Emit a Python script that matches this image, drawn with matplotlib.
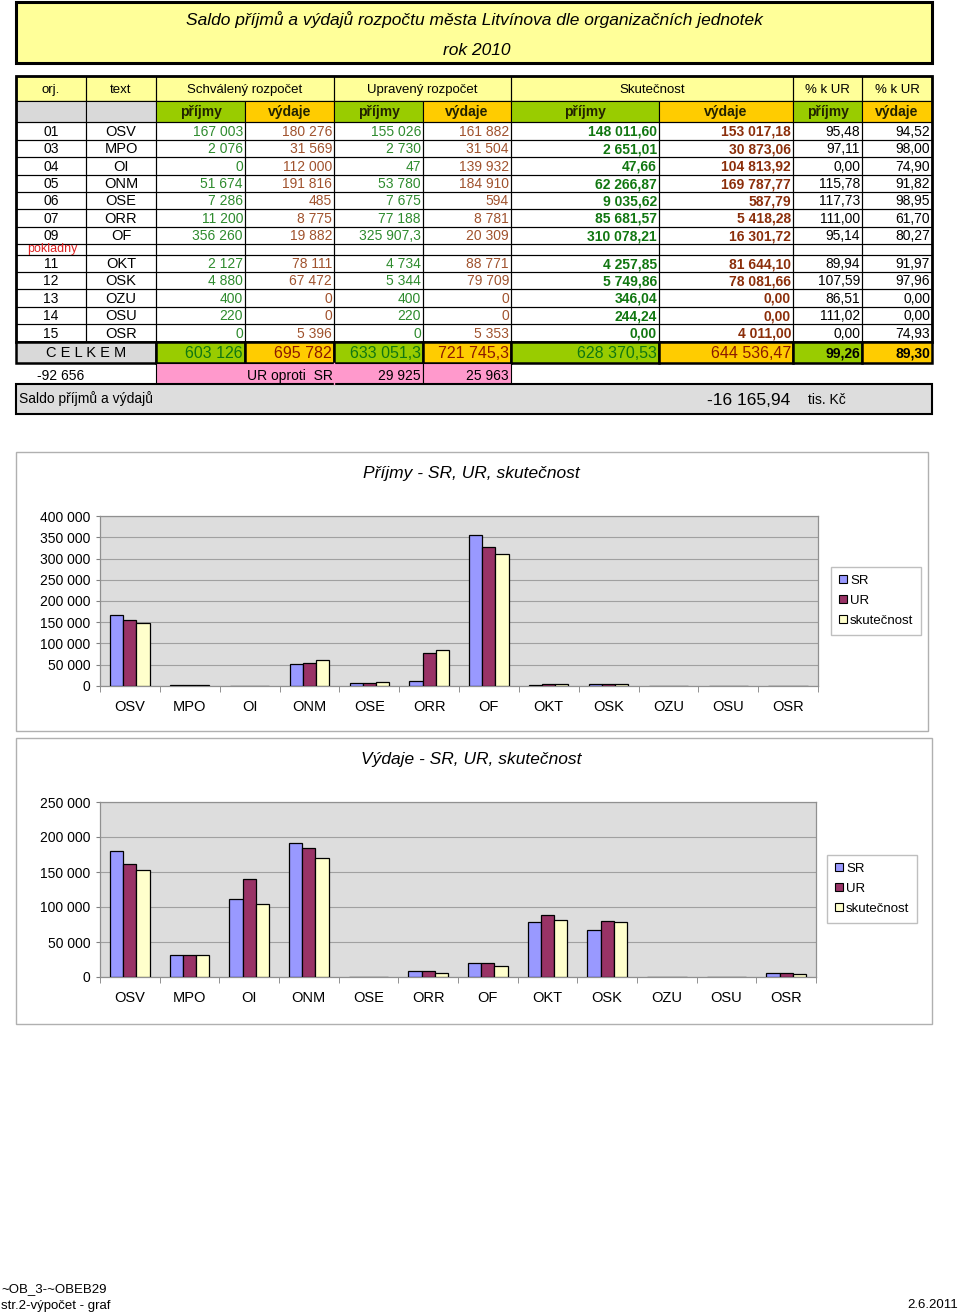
import numpy as np
import matplotlib
matplotlib.use("Agg")
import matplotlib.pyplot as plt
from matplotlib.patches import Rectangle, Patch

plt.rcParams['font.family'] = ['Liberation Sans', 'DejaVu Sans']

# data read from the spreadsheet
codes = ['01', '03', '04', '05', '06', '07', '09', '11', '12', '13', '14', '15']
names = ['OSV', 'MPO', 'OI', 'ONM', 'OSE', 'ORR', 'OF', 'OKT', 'OSK', 'OZU', 'OSU', 'OSR']
sr_prijmy = [167003, 2076, 0, 51674, 7286, 11200, 356260, 2127, 4880, 400, 220, 0]
sr_vydaje = [180276, 31569, 112000, 191816, 485, 8775, 19882, 78111, 67472, 0, 0, 5396]
ur_prijmy = [155026, 2730, 47, 53780, 7675, 77188, 325907.3, 4734, 5344, 400, 220, 0]
ur_vydaje = [161882, 31504, 139932, 184910, 594, 8781, 20309, 88771, 79709, 0, 0, 5353]
sk_prijmy = [148011.60, 2651.01, 47.66, 62266.87, 9035.62, 85681.57, 310078.21,
             4257.85, 5749.86, 346.04, 244.24, 0.00]
sk_vydaje = [153017.18, 30873.06, 104813.92, 169787.77, 587.79, 5418.28, 16301.72,
             81644.10, 78081.66, 0.00, 0.00, 4011.00]
pct_prijmy = [95.48, 97.11, 0.00, 115.78, 117.73, 111.00, 95.14, 89.94, 107.59, 86.51, 111.02, 0.00]
pct_vydaje = [94.52, 98.00, 74.90, 91.82, 98.95, 61.70, 80.27, 91.97, 97.96, 0.00, 0.00, 74.93]
totals = [603126, 695782, 633051.3, 721745.3, 628370.53, 644536.47, 99.26, 89.30]
saldo_sr = -92656
ur_vs_sr = [29925, 25963]
saldo = -16165.94

series_names = ['SR', 'UR', 'skutečnost']
bar_colors = ['#9999FF', '#993366', '#FFFFCC']


def fmt(v, dec=None):
    if dec is None:
        dec = 0 if float(v).is_integer() else 1
    return f"{v:,.{dec}f}".replace(",", " ").replace(".", ",")


fig = plt.figure(figsize=(9.6, 13.15), dpi=100)
ax0 = fig.add_axes([0, 0, 1, 1])
ax0.set_xlim(0, 960)
ax0.set_ylim(1315, 0)
ax0.axis('off')


def box(x0, x1, y0, y1, fc='none', lw=0.8, ec='black', z=1):
    ax0.add_patch(Rectangle((x0, y0), x1 - x0, y1 - y0, fc=fc, ec=ec, lw=lw, zorder=z))


# title box
box(16, 932, 2, 63, fc='#FFFF99', lw=2.2)
ax0.text(474, 20, 'Saldo příjmů a výdajů rozpočtu města Litvínova dle organizačních jednotek',
         ha='center', va='center', fontsize=12.5, style='italic')
ax0.text(477, 50, 'rok 2010', ha='center', va='center', fontsize=12.5, style='italic')

# table geometry
cx = [16, 86, 156, 245, 334, 423, 511, 659, 793, 862, 932]
rows_a = [122, 140, 157, 175, 192, 209, 227, 244]
rows_b = [255, 272, 289, 307, 324, 342]
row_edges = [(rows_a[i], rows_a[i + 1]) for i in range(7)] + \
            [(rows_b[i], rows_b[i + 1]) for i in range(5)]

# header row 1
box(16, 932, 76, 101, fc='#FFFF99')
heads = [(0, 1, 'orj.'), (1, 2, 'text'), (2, 4, 'Schválený rozpočet'),
         (4, 6, 'Upravený rozpočet'), (6, 8, 'Skutečnost'), (8, 9, '% k UR'), (9, 10, '% k UR')]
for a, b, t in heads:
    box(cx[a], cx[b], 76, 101)
    ax0.text((cx[a] + cx[b]) / 2, 89.5, t, ha='center', va='center', fontsize=9.5)

# header row 2
for i in range(10):
    if i < 2:
        fc, t = '#D9D9D9', ''
    elif i % 2 == 0:
        fc, t = '#99CC00', 'příjmy'
    else:
        fc, t = '#FFCC00', 'výdaje'
    box(cx[i], cx[i + 1], 101, 122, fc=fc)
    if t:
        ax0.text((cx[i] + cx[i + 1]) / 2, 112, t, ha='center', va='center',
                 fontsize=10, fontweight='bold', color='#222200')

# data rows
g1, b1 = '#2E8B2E', '#A0522D'
g2, b2 = '#117711', '#8B2E0A'
for r in range(12):
    y0, y1 = row_edges[r]
    ym = (y0 + y1) / 2 + 0.5
    for i in range(10):
        box(cx[i], cx[i + 1], y0, y1)
    ax0.text(51, ym, codes[r], ha='center', va='center', fontsize=10)
    ax0.text(121, ym, names[r], ha='center', va='center', fontsize=10.5)
    cells = [(sr_prijmy[r], None, g1, 'normal'), (sr_vydaje[r], None, b1, 'normal'),
             (ur_prijmy[r], None, g1, 'normal'), (ur_vydaje[r], None, b1, 'normal'),
             (sk_prijmy[r], 2, g2, 'bold'), (sk_vydaje[r], 2, b2, 'bold'),
             (pct_prijmy[r], 2, 'black', 'normal'), (pct_vydaje[r], 2, 'black', 'normal')]
    for k, (v, d, c, w) in enumerate(cells):
        ax0.text(cx[k + 3] - 2, ym, fmt(v, d), ha='right', va='center',
                 fontsize=10, color=c, fontweight=w)

# pokladny spacer row
for i in range(10):
    box(cx[i], cx[i + 1], 244, 255)
ax0.text(52, 249, 'pokladny', ha='center', va='center', fontsize=9, color='#DD2222', zorder=3)

# outer table border
box(16, 932, 76, 342, lw=2)

# CELKEM row
box(16, 156, 342, 363, fc='#D9D9D9', lw=1.8)
ax0.text(86, 353, 'C E L K E M', ha='center', va='center', fontsize=10.5)
tot_fc = ['#99CC00', '#FFCC00'] * 4
tot_tc = ['#117711', '#8B1A00'] * 3 + ['black', 'black']
tot_dec = [None, None, None, None, 2, 2, 2, 2]
for k in range(8):
    box(cx[k + 2], cx[k + 3], 342, 363, fc=tot_fc[k], lw=1.8)
    ax0.text(cx[k + 3] - 2, 353, fmt(totals[k], tot_dec[k]), ha='right', va='center',
             fontsize=11.5 if k < 6 else 10, color=tot_tc[k],
             fontweight='bold' if k >= 6 else 'normal')

# UR oproti SR row
ax0.text(61, 376, fmt(saldo_sr), ha='center', va='center', fontsize=10)
box(156, 423, 363, 384, fc='#FF99CC')
box(423, 511, 363, 384, fc='#FF99CC')
ax0.plot([334, 334], [363, 384], color='#FF99CC', lw=1, zorder=2)
ax0.text(290, 376, 'UR oproti  SR', ha='center', va='center', fontsize=10)
ax0.text(421, 376, fmt(ur_vs_sr[0]), ha='right', va='center', fontsize=10)
ax0.text(509, 376, fmt(ur_vs_sr[1]), ha='right', va='center', fontsize=10)

# saldo box
box(16, 932, 384, 414, fc='#DDDDDD', lw=1.5)
ax0.text(19, 399, 'Saldo příjmů a výdajů', ha='left', va='center', fontsize=10)
ax0.text(790, 400, fmt(saldo, 2), ha='right', va='center', fontsize=12.5)
ax0.text(808, 400, 'tis. Kč', ha='left', va='center', fontsize=10)

# chart frames
box(16, 928, 452, 731, fc='white', ec='#B0B0B0', lw=1)
box(16, 932, 738, 1024, fc='white', ec='#B0B0B0', lw=1)

# footer
ax0.text(1, 1289, '~OB_3-~OBEB29', ha='left', va='center', fontsize=9.5)
ax0.text(1, 1306, 'str.2-výpočet - graf', ha='left', va='center', fontsize=9.5)
ax0.text(958, 1305, '2.6.2011', ha='right', va='center', fontsize=9.5)


def px_axes(x0, x1, y0, y1):
    return fig.add_axes([x0 / 960, 1 - y1 / 1315, (x1 - x0) / 960, (y1 - y0) / 1315])


def bar_chart(ax, series, ymax, title, title_y, leg_xy):
    x = np.arange(len(names))
    w = 0.22
    for j, (vals, col) in enumerate(zip(series, bar_colors)):
        ax.bar(x + (j - 1) * w, vals, w, color=col, edgecolor='black', linewidth=0.9,
               label=series_names[j], zorder=3)
    ax.set_facecolor('#DDDDDD')
    ax.set_xlim(-0.5, len(names) - 0.5)
    ax.set_ylim(0, ymax)
    ax.set_yticks(np.arange(0, ymax + 1, 50000))
    ax.set_yticklabels([fmt(v) for v in np.arange(0, ymax + 1, 50000)], fontsize=10)
    ax.yaxis.grid(True, color='#A0A0A0', lw=0.8, zorder=0)
    ax.set_xticks(x)
    ax.set_xticklabels(names, fontsize=10.5)
    ax.tick_params(axis='x', length=0, pad=10)
    ax.tick_params(axis='y', length=3, color='#808080', pad=4)
    ax.set_xticks(np.arange(-0.5, len(names)), minor=True)
    ax.tick_params(axis='x', which='minor', length=4, color='#808080')
    for s in ax.spines.values():
        s.set_color('#909090')
        s.set_linewidth(0.9)
    fig.text(471 / 960, 1 - title_y / 1315, title, ha='center', va='center',
             fontsize=12.5, style='italic')
    handles = [Patch(fc=c, ec='black', lw=0.8) for c in bar_colors]
    leg = ax.legend(handles, series_names, loc='upper left',
                    bbox_to_anchor=(leg_xy[0] / 960, 1 - leg_xy[1] / 1315),
                    bbox_transform=fig.transFigure, fancybox=False, fontsize=9.5,
                    handlelength=0.6, handleheight=0.6, handletextpad=0.25,
                    labelspacing=0.6, borderpad=0.6, borderaxespad=0)
    leg.get_frame().set_edgecolor('#B0B0B0')
    leg.get_frame().set_linewidth(1)


ax1 = px_axes(100, 818, 516, 686)
bar_chart(ax1, [sr_prijmy, ur_prijmy, sk_prijmy], 400000,
          'Příjmy - SR, UR, skutečnost', 474, (831, 567))

ax2 = px_axes(100, 816, 802, 977)
bar_chart(ax2, [sr_vydaje, ur_vydaje, sk_vydaje], 250000,
          'Výdaje - SR, UR, skutečnost', 760, (827, 855))

fig.savefig('out.png', dpi=100)
